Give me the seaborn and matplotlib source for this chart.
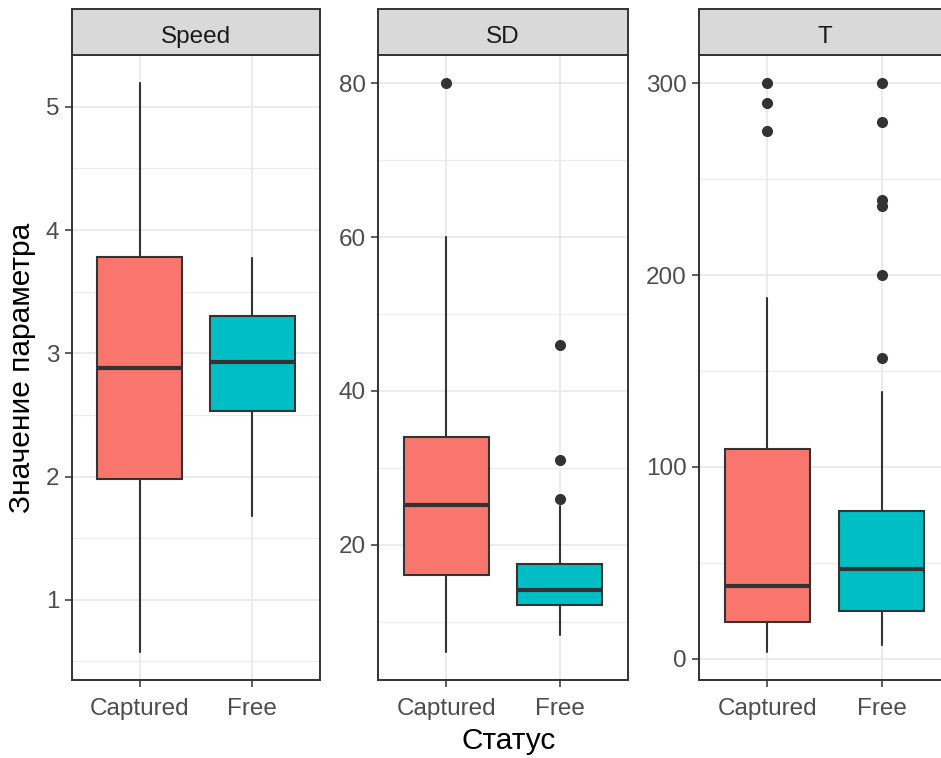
import numpy as np
import matplotlib
matplotlib.use("Agg")
import matplotlib.pyplot as plt
import seaborn as sns
from matplotlib.ticker import MultipleLocator

# facets and groups
params = ["Speed", "SD", "T"]
statuses = ["Captured", "Free"]
box_colors = ["#F8766D", "#00BFC4"]

# box summaries, one pair [Captured, Free] per parameter
whislo = {"Speed": [0.58, 1.68], "SD": [6.1, 8.2], "T": [3.7, 7.0]}
q1 = {"Speed": [1.98, 2.53], "SD": [16.1, 12.1], "T": [19.0, 24.7]}
median = {"Speed": [2.88, 2.93], "SD": [25.2, 14.1], "T": [38.0, 47.0]}
q3 = {"Speed": [3.78, 3.30], "SD": [34.0, 17.5], "T": [109.5, 77.0]}
whishi = {"Speed": [5.19, 3.77], "SD": [60.0, 25.0], "T": [188.0, 139.0]}
outliers = {
    "Speed": [[], []],
    "SD": [[80.0], [46.0, 31.0, 26.0]],
    "T": [[300.0, 290.0, 275.0], [300.0, 280.0, 239.0, 236.0, 200.0, 157.0]],
}
major_step = {"Speed": 1, "SD": 20, "T": 100}

sns.set_theme(style="white")
plt.rcParams["font.family"] = ["Liberation Sans", "DejaVu Sans"]

W, H = 941, 758
fig = plt.figure(figsize=(W / 100, H / 100), dpi=100)

# panel pixel geometry (left, right); top/bottom shared
panel_x = [(72, 320), (378, 628), (699, 950)]
p_top, p_bot = 55, 680
strip_top = 9

edge = "#333333"
for k, p in enumerate(params):
    x0, x1 = panel_x[k]
    ax = fig.add_axes([x0 / W, 1 - p_bot / H, (x1 - x0) / W, (p_bot - p_top) / H])
    stats = []
    for i, s in enumerate(statuses):
        stats.append(dict(label=s, whislo=whislo[p][i], q1=q1[p][i], med=median[p][i],
                          q3=q3[p][i], whishi=whishi[p][i], fliers=outliers[p][i]))
    bp = ax.bxp(stats, positions=[1, 2], widths=0.75, patch_artist=True, showcaps=False,
                boxprops=dict(edgecolor=edge, linewidth=1.5),
                whiskerprops=dict(color=edge, linewidth=1.5),
                medianprops=dict(color=edge, linewidth=3.0),
                flierprops=dict(marker="o", markerfacecolor=edge, markeredgecolor=edge,
                                markersize=7))
    for patch, c in zip(bp["boxes"], box_colors):
        patch.set_facecolor(c)
        patch.set_zorder(3)
    for key in ("whiskers", "medians", "fliers"):
        for a in bp[key]:
            a.set_zorder(4 if key != "whiskers" else 2.5)

    vals = whislo[p] + whishi[p] + [v for fl in outliers[p] for v in fl]
    lo, hi = min(vals), max(vals)
    pad = 0.05 * (hi - lo)
    ax.set_ylim(lo - pad, hi + pad)
    ax.set_xlim(0.4, 2.6)

    ax.yaxis.set_major_locator(MultipleLocator(major_step[p]))
    ax.yaxis.set_minor_locator(MultipleLocator(major_step[p] / 2))
    ax.set_axisbelow(True)
    ax.grid(which="major", color="#EBEBEB", linewidth=1.4)
    ax.grid(which="minor", axis="y", color="#EBEBEB", linewidth=0.8)
    ax.tick_params(which="major", length=5, width=1.1, color=edge, labelsize=17.5,
                   labelcolor="#4D4D4D", left=True, bottom=True)
    ax.tick_params(axis="y", pad=4)
    ax.tick_params(axis="x", pad=8)
    ax.tick_params(which="minor", length=0)
    ax.set_xticks([1, 2])
    ax.set_xticklabels(statuses)
    for sp in ax.spines.values():
        sp.set_color(edge)
        sp.set_linewidth(1.4)
    ax.set_facecolor("white")

    sax = fig.add_axes([x0 / W, 1 - p_top / H, (x1 - x0) / W, (p_top - strip_top) / H])
    sax.set_facecolor("#D9D9D9")
    sax.set_xticks([])
    sax.set_yticks([])
    for sp in sax.spines.values():
        sp.set_color(edge)
        sp.set_linewidth(1.4)
    sax.text(0.5, (p_top - 43) / (p_top - strip_top), p, ha="center", va="baseline",
             fontsize=17.5, color="#1A1A1A", transform=sax.transAxes)

fig.text(22 / W, 1 - ((p_top + p_bot) / 2) / H, "Значение параметра", rotation=90,
         ha="center", va="center", fontsize=21.5, color="black")
fig.text(509 / W, 1 - 741 / H, "Статус", ha="center", va="center", fontsize=21.5,
         color="black")

fig.savefig("out.png", dpi=100)
